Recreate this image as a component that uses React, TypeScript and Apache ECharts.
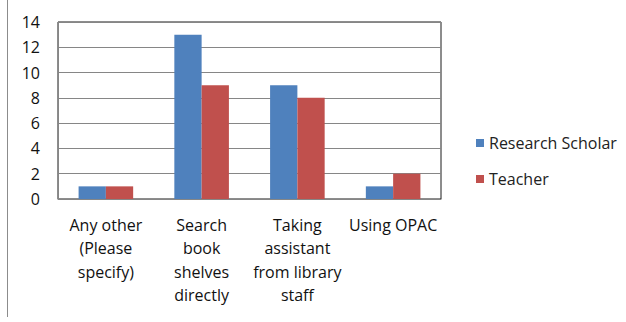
import React, { useEffect, useRef } from "react";
import * as echarts from "echarts";

const categories = [
  "Any other\n(Please\nspecify)",
  "Search\nbook\nshelves\ndirectly",
  "Taking\nassistant\nfrom library\nstaff",
  "Using OPAC",
];
const researchScholar = [1, 13, 9, 1];
const teacher = [1, 9, 8, 2];
const yTicks = { min: 0, max: 14, interval: 2 };

const FONT = "Open Sans";

export default function App() {
  const ref = useRef<HTMLDivElement>(null);
  useEffect(() => {
    if (!ref.current) return;
    const chart = echarts.init(ref.current, null, { renderer: "svg" });
    chart.setOption({
      animation: false,
      backgroundColor: "#fff",
      textStyle: { fontFamily: FONT },
      grid: {
        left: 58,
        top: 22,
        width: 383,
        height: 177,
        show: true,
        borderColor: "#1a1a1a",
        borderWidth: 1,
        backgroundColor: "transparent",
      },
      legend: {
        orient: "vertical",
        left: 471,
        top: 127,
        itemWidth: 8,
        itemHeight: 8,
        itemGap: 14,
        icon: "rect",
        textStyle: { fontFamily: FONT, fontSize: 16, color: "#222", lineHeight: 22 },
        data: ["Research Scholar", "Teacher"],
      },
      xAxis: {
        type: "category",
        data: categories,
        axisLine: { show: true, lineStyle: { color: "#868686" } },
        axisTick: { show: false },
        axisLabel: {
          interval: 0,
          fontFamily: FONT,
          fontSize: 16,
          color: "#111",
          lineHeight: 23.5,
          margin: 14,
        },
      },
      yAxis: {
        type: "value",
        min: yTicks.min,
        max: yTicks.max,
        interval: yTicks.interval,
        axisLine: { show: true, lineStyle: { color: "#868686" } },
        axisTick: { show: false },
        splitLine: { show: true, lineStyle: { color: "#868686" } },
        axisLabel: { fontFamily: FONT, fontSize: 16, color: "#111", margin: 18 },
      },
      series: [
        {
          name: "Research Scholar",
          type: "bar",
          data: researchScholar,
          barGap: "0%",
          barCategoryGap: "43%",
          itemStyle: { color: "#4F81BD" },
        },
        {
          name: "Teacher",
          type: "bar",
          data: teacher,
          itemStyle: { color: "#C0504D" },
        },
      ],
      graphic: [
        {
          type: "line",
          shape: { x1: 7.5, y1: 0, x2: 7.5, y2: 317 },
          style: { stroke: "#8c8c8c", lineWidth: 1 },
        },
      ],
    });
    return () => chart.dispose();
  }, []);
  return (
    <div
      ref={ref}
      style={{ position: "fixed", left: 0, top: 0, width: 626, height: 322 }}
    />
  );
}
